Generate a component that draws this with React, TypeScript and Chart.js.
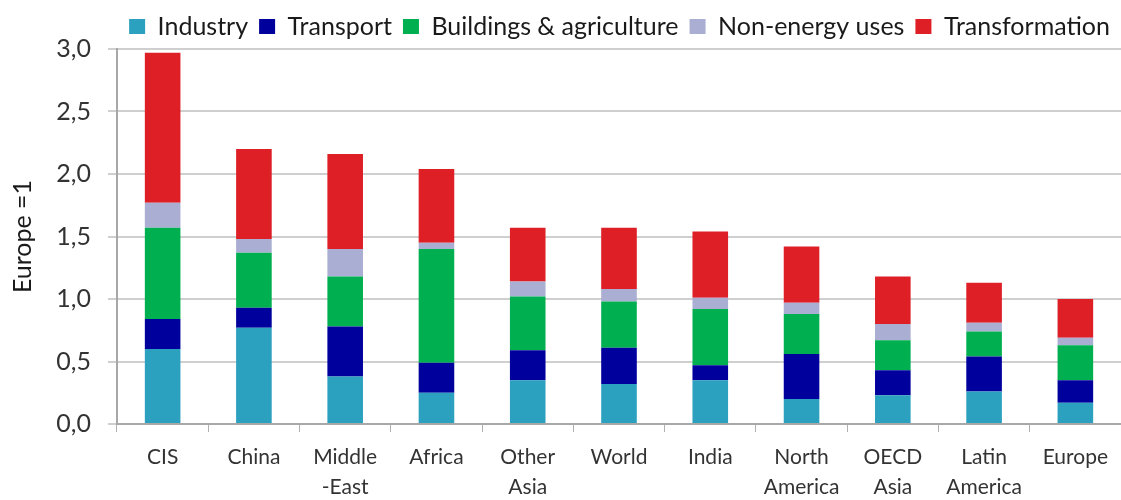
import React, { useEffect, useRef } from "react";
import { Chart, registerables } from "chart.js";

Chart.register(...registerables);

const categories: string[][] = [
  ["CIS"],
  ["China"],
  ["Middle", "-East"],
  ["Africa"],
  ["Other", "Asia"],
  ["World"],
  ["India"],
  ["North", "America"],
  ["OECD", "Asia"],
  ["Latin", "America"],
  ["Europe"],
];
const industry = [0.6, 0.77, 0.38, 0.25, 0.35, 0.32, 0.35, 0.2, 0.23, 0.26, 0.17];
const transport = [0.24, 0.16, 0.4, 0.24, 0.24, 0.29, 0.12, 0.36, 0.2, 0.28, 0.18];
const buildings = [0.73, 0.44, 0.4, 0.91, 0.43, 0.37, 0.45, 0.32, 0.24, 0.2, 0.28];
const nonEnergy = [0.2, 0.11, 0.22, 0.05, 0.12, 0.1, 0.09, 0.09, 0.13, 0.07, 0.06];
const transformation = [1.2, 0.72, 0.76, 0.59, 0.43, 0.49, 0.53, 0.45, 0.38, 0.32, 0.31];
const seriesNames = ["Industry", "Transport", "Buildings & agriculture", "Non-energy uses", "Transformation"];
const seriesColors = ["#2ba1bf", "#00009c", "#00b050", "#aaaed2", "#de1f26"];
const yAxisTitle = "Europe =1";

export default function App() {
  const ref = useRef<HTMLCanvasElement | null>(null);
  useEffect(() => {
    if (!ref.current) return;
    const font = "Lato";
    const values = [industry, transport, buildings, nonEnergy, transformation];
    const chart = new Chart(ref.current, {
      type: "bar",
      data: {
        labels: categories,
        datasets: values.map((v, i) => ({
          label: seriesNames[i],
          data: v,
          backgroundColor: seriesColors[i],
          borderWidth: 0,
          categoryPercentage: 1,
          barPercentage: 0.39,
        })),
      },
      options: {
        animation: false,
        responsive: false,
        maintainAspectRatio: false,
        layout: { padding: { top: 3, right: 0, left: 0, bottom: 0 } },
        plugins: {
          tooltip: { enabled: false },
          legend: {
            position: "top",
            align: "end",
            labels: {
              font: { family: font, size: 25 },
              color: "#1a1a1a",
              boxWidth: 16,
              boxHeight: 15,
              padding: 11,
            },
          },
        },
        scales: {
          x: {
            stacked: true,
            afterFit: (s: any) => {
              s.height = 76;
            },
            grid: {
              offset: true,
              drawOnChartArea: false,
              drawTicks: true,
              tickLength: 8,
              color: "#b0b0b0",
              lineWidth: 1,
            },
            border: { display: true, color: "#a8a8a8", width: 2 },
            ticks: {
              font: { family: font, size: 21, lineHeight: 1.45 },
              color: "#333333",
              padding: 10,
              maxRotation: 0,
              autoSkip: false,
            },
          },
          y: {
            stacked: true,
            min: 0,
            max: 3,
            afterFit: (s: any) => {
              s.width = 117;
            },
            title: {
              display: true,
              text: yAxisTitle,
              font: { family: font, size: 25 },
              color: "#1a1a1a",
              padding: { top: 8, bottom: 0 },
            },
            grid: {
              color: "#cfcfcf",
              lineWidth: 2,
              tickLength: 9,
              drawTicks: true,
            },
            border: { display: true, color: "#a8a8a8", width: 2 },
            ticks: {
              stepSize: 0.5,
              font: { family: font, size: 25 },
              color: "#333333",
              padding: 17,
              callback: (v: any) => Number(v).toFixed(1).replace(".", ","),
            },
          },
        },
      },
    });
    return () => chart.destroy();
  }, []);
  return (
    <div style={{ position: "absolute", left: 0, top: 0, width: 1121, height: 500, background: "#fff" }}>
      <canvas ref={ref} width={1121} height={500} style={{ width: 1121, height: 500 }} />
    </div>
  );
}
